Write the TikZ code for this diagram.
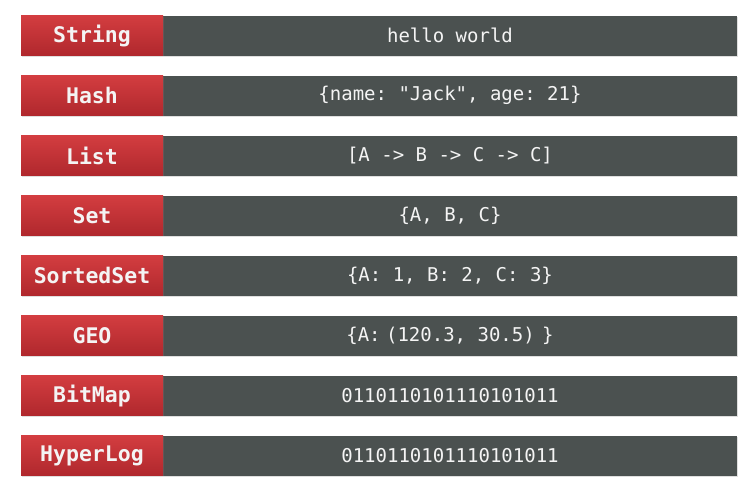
\documentclass[tikz,border=0pt]{standalone}
\usepackage{fontspec}
\setmonofont{DejaVu Sans Mono}
\usetikzlibrary{shadows}
\definecolor{redtop}{HTML}{D33D40}
\definecolor{redbot}{HTML}{B0282D}
\definecolor{darkbar}{HTML}{4B5150}
\definecolor{txt}{HTML}{F4F4F4}
\tikzset{
  keybox/.style={minimum width=142pt, minimum height=40pt, inner sep=0pt,
    top color=redtop, bottom color=redbot, text=txt,
    font=\ttfamily\bfseries\fontsize{21.5}{21.5}\selectfont,
    drop shadow={shadow xshift=0.8pt, shadow yshift=-1.5pt, opacity=0.25}},
  valbox/.style={minimum width=574pt, minimum height=40pt, inner sep=0pt,
    fill=darkbar, text=txt,
    font=\ttfamily\fontsize{19}{19}\selectfont,
    drop shadow={shadow xshift=0.8pt, shadow yshift=-1.5pt, opacity=0.25}}
}
\begin{document}
\begin{tikzpicture}[x=1pt,y=-1pt]
\useasboundingbox (0,0) rectangle (750,485);
\foreach \i/\k/\v in {
  0/String/{hello world},
  1/Hash/{\{name: "Jack", age: 21\}},
  2/List/{[A -> B -> C -> C]},
  3/Set/{\{A, B, C\}},
  4/SortedSet/{\{A: 1, B: 2, C: 3\}},
  5/GEO/{\{A: \kern-6pt(120.3, 30.5) \kern-4pt\}},
  6/BitMap/{0110110101110101011},
  7/HyperLog/{0110110101110101011}} {
  \node[valbox] (v\i) at (450, 35.5+60*\i) {\v};
  \node[keybox] (k\i) at (92, 35.5+60*\i) {\k};
}
\end{tikzpicture}
\end{document}
